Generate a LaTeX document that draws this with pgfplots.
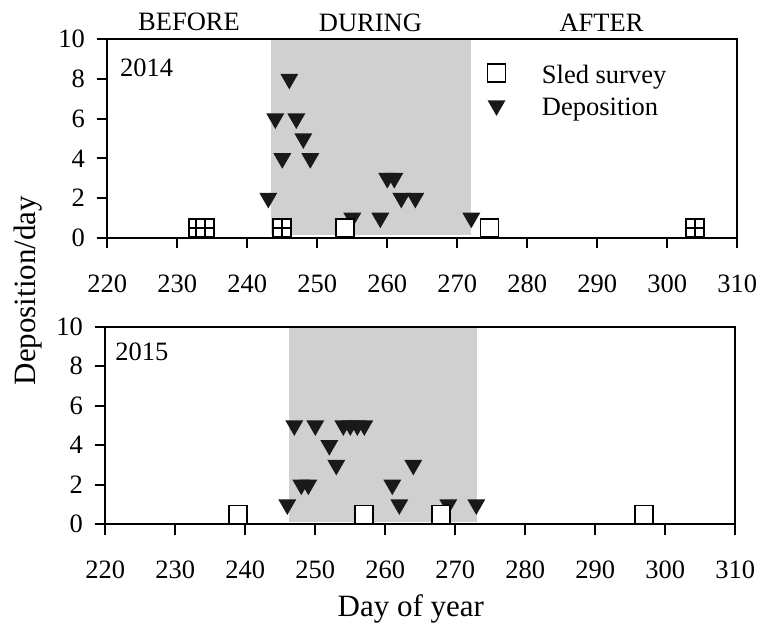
\documentclass[border=0pt]{standalone}
\usepackage{fontspec}
\setmainfont{Liberation Serif}
\usepackage{pgfplots}
\pgfplotsset{compat=1.18}
\definecolor{shade}{RGB}{208,208,208}
\definecolor{mk}{RGB}{25,25,25}

\pgfdeclareplotmark{sqplus}{%
  \pgfpathrectangle{\pgfqpoint{-\pgfplotmarksize}{-\pgfplotmarksize}}{\pgfqpoint{2\pgfplotmarksize}{2\pgfplotmarksize}}%
  \pgfusepathqfillstroke
  \pgfpathmoveto{\pgfqpoint{0pt}{-\pgfplotmarksize}}\pgfpathlineto{\pgfqpoint{0pt}{\pgfplotmarksize}}%
  \pgfpathmoveto{\pgfqpoint{-\pgfplotmarksize}{0pt}}\pgfpathlineto{\pgfqpoint{\pgfplotmarksize}{0pt}}%
  \pgfusepathqstroke}
\pgfdeclareplotmark{dtri}{%
  \pgfpathmoveto{\pgfqpoint{0pt}{-\pgfplotmarksize}}%
  \pgfpathlineto{\pgfqpoint{0.866\pgfplotmarksize}{0.5\pgfplotmarksize}}%
  \pgfpathlineto{\pgfqpoint{-0.866\pgfplotmarksize}{0.5\pgfplotmarksize}}%
  \pgfpathclose\pgfusepathqfill}

\pgfplotsset{myax/.style={
  scale only axis, width=630pt,
  xmin=220, xmax=310, ymin=0, ymax=10,
  xtick={220,230,...,310}, ytick={0,2,...,10},
  tick align=outside, xtick pos=bottom, ytick pos=left,
  major tick length=10.7pt,
  axis line style={line width=1.8pt},
  major tick style={line width=1.8pt, black},
  /pgf/number format/assume math mode=true,
  xticklabel style={inner sep=0pt, anchor=north, yshift=-26pt},
  yticklabel style={inner sep=0pt, anchor=east, xshift=-11.6pt},
  axis on top, clip=false,
  sq/.style={only marks, mark=square*, mark size=9pt, mark options={fill=white, draw=black, line width=1.7pt}},
  sqp/.style={only marks, mark=sqplus, mark size=9pt, mark options={fill=white, draw=black, line width=1.7pt}},
  tri/.style={only marks, mark=dtri, mark size=10.4pt, mark options={fill=mk, draw=none}},
}}

\begin{document}
\fontsize{26.5}{30}\selectfont
\begin{tikzpicture}
\begin{axis}[myax, at={(107.3pt,-237.7pt)}, anchor=south west, height=198.4pt,
  legend style={at={(rel axis cs:0.6032,0.8755)}, anchor=north west, draw=none, fill=none,
    inner sep=0pt, column sep=36.4pt, row sep=10.75pt, nodes={inner sep=0pt, anchor=base west}},
  legend cell align=left,
  legend image code/.code={\draw[#1] plot coordinates {(0pt,10pt)};}]
\addplot[fill=shade, draw=none, forget plot] coordinates {(243.4,0.13) (272,0.13) (272,10) (243.4,10)} -- cycle;
\addplot[tri, forget plot] coordinates {
(243,2) (244,6) (245,4) (246,8) (247,6) (248,5) (249,4)
(255,1) (259,1) (260,3) (261,3) (262,2) (264,2) (272,1)};
\addplot[sqp, forget plot] coordinates {(233,0.5) (234,0.5) (245,0.5) (304,0.5)};
\addplot[sq, forget plot] coordinates {(254,0.5) (274.6,0.5)};
\addlegendimage{sq}
\addlegendentry{Sled survey}
\addlegendimage{tri}
\addlegendentry{Deposition}
\node[anchor=base west, inner sep=0pt] at (axis cs:221.8,8.15) {2014};
\node[anchor=base] at (axis cs:231.67,10.45) {BEFORE};
\node[anchor=base] at (axis cs:257.6,10.4) {DURING};
\node[anchor=base] at (axis cs:290.6,10.4) {AFTER};
\end{axis}

\begin{axis}[myax, at={(105.3pt,-524.3pt)}, anchor=south west, height=197.6pt]
\addplot[fill=shade, draw=none] coordinates {(246.2,0.13) (273.1,0.13) (273.1,10) (246.2,10)} -- cycle;
\addplot[tri] coordinates {
(246,1) (247,5) (248,2) (249,2) (250,5) (252,4) (253,3) (254,5) (255,5) (256,5) (257,5)
(261,2) (262,1) (264,3) (269,1) (273,1)};
\addplot[sq] coordinates {(239,0.5) (257,0.5) (268,0.5) (297,0.5)};
\node[anchor=base west, inner sep=0pt] at (axis cs:221.4,8.3) {2015};
\end{axis}

\node[anchor=base, font=\fontsize{31}{31}\selectfont] at (410.8pt,-616pt) {Day of year};
\node[rotate=90, anchor=base, font=\fontsize{31}{31}\selectfont] at (35pt,-290.5pt) {Deposition/day};
\pgfresetboundingbox
\path[use as bounding box] (0pt,0pt) rectangle (770pt,-624pt);
\end{tikzpicture}
\end{document}
